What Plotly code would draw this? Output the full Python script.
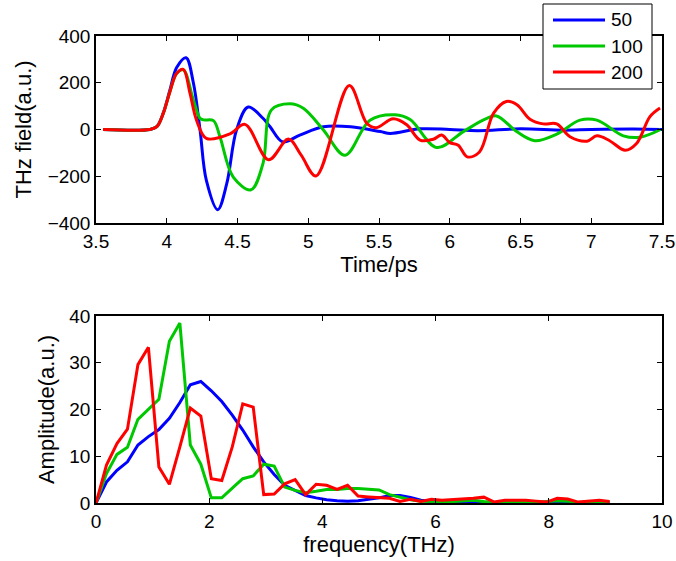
import plotly.graph_objects as go

# ---------------- data: time domain (ps, a.u.) ----------------
t_50 = [3.55, 3.88, 3.93, 3.976, 4.023, 4.07, 4.136, 4.188, 4.235, 4.28, 4.36, 4.424, 4.494,
        4.576, 4.68, 4.73, 4.82, 4.94, 5.107, 5.30, 5.51, 5.58, 5.79, 6.0, 6.2, 6.5, 6.8, 7.0, 7.3, 7.5]
v_50 = [0, 0, 12, 72, 170, 265, 307, 200, 0, -218, -343, -232, 0,
        96, 48, 12, -53, -24, 12, 12, -9, -17, 3, 0, -5, 3, -3, 0, 2, 0]

t_100 = [3.55, 3.88, 3.93, 3.976, 4.023, 4.07, 4.117, 4.188, 4.235, 4.26, 4.33, 4.376, 4.47,
         4.595, 4.68, 4.74, 4.87, 4.965, 5.107, 5.26, 5.436, 5.613, 5.72, 5.908, 6.096, 6.25,
         6.33, 6.473, 6.60, 6.756, 6.92, 7.04, 7.227, 7.345, 7.49]
v_100 = [0, 0, 12, 70, 163, 240, 255, 127, 48, 41, 38, -31, -204,
         -258, -146, 84, 110, 91, -2, -110, 40, 63, 43, -77, -9, 44,
         58, -9, -48, -20, 40, 40, -27, -33, 0]

t_200 = [3.55, 3.88, 3.93, 3.976, 4.023, 4.07, 4.117, 4.164, 4.21, 4.28, 4.447, 4.553, 4.72,
         4.86, 4.95, 5.055, 5.29, 5.413, 5.48, 5.60, 5.696, 5.79, 5.884, 5.943, 6.0, 6.06,
         6.124, 6.21, 6.31, 6.40, 6.475, 6.567, 6.66, 6.756, 6.85, 6.97, 7.04, 7.13, 7.24,
         7.32, 7.415, 7.486]
v_200 = [0, 0, 12, 70, 163, 240, 257, 156, 41, -38, -19, 22, -129,
         -41, -110, -199, 188, 27, 8, 46, 20, -45, -42, -24, -56, -67,
         -117, -96, 70, 120, 106, 44, 24, 24, -31, -50, -27, -48, -89,
         -60, 55, 92]

# ---------------- data: spectra (THz, a.u.) ----------------
df = 0.1852
freq = [round(i * df, 4) for i in range(50)]
a_50 = [0, 4.5, 7.0, 8.8, 12.4, 14.2, 15.7, 18.1, 21.5, 25.3,
        26.0, 24.0, 21.7, 18.8, 15.6, 12.0, 8.8, 6.1, 3.8, 2.7,
        1.6, 1.1, 0.7, 0.5, 0.4, 0.5, 0.8, 1.1, 1.6, 1.6,
        1.2, 0.6, 0.3, 0.2, 0.1, 0.1, 0.1, 0.1, 0.1, 0.1,
        0.1, 0.1, 0.1, 0.2, 0.2, 0.1, 0.1, 0.1, 0.1, 0.1]
a_100 = [0, 6.3, 10.4, 11.9, 17.9, 20.0, 22.2, 34.6, 38.5, 12.4,
         8.3, 1.1, 1.1, 3.2, 5.2, 5.8, 8.3, 7.9, 3.4, 2.7,
         2.2, 2.5, 2.9, 2.9, 3.1, 3.1, 3.0, 2.8, 1.8, 1.3,
         0.7, 0.4, 0.3, 0.3, 0.3, 0.5, 0.6, 0.3, 0.1, 0.2,
         0.2, 0.2, 0.1, 0.3, 0.5, 0.4, 0.1, 0.2, 0.2, 0.1]
a_200 = [0, 8.1, 12.7, 15.8, 29.6, 33.3, 7.7, 4.0, 12.0, 20.3,
         18.6, 5.2, 4.8, 12.0, 21.2, 20.5, 1.8, 1.9, 4.1, 5.0,
         1.8, 4.0, 3.8, 2.9, 3.8, 1.5, 1.3, 1.15, 1.0, 0.35,
         0.8, 0.35, 0.8, 0.6, 0.7, 0.8, 1.0, 1.25, 0.2, 0.6,
         0.6, 0.6, 0.4, 0.2, 1.0, 0.85, 0.2, 0.4, 0.6, 0.3]

names = ["50", "100", "200"]
colors = ["#0000ff", "#00c800", "#ff0000"]

fig = go.Figure()
top = [(t_50, v_50), (t_100, v_100), (t_200, v_200)]
bot = [a_50, a_100, a_200]
for (t, v), a, n, c in zip(top, bot, names, colors):
    fig.add_trace(go.Scatter(x=t, y=v, mode="lines", name=n, showlegend=False,
                             line=dict(color=c, width=3, shape="spline", smoothing=1.0),
                             xaxis="x", yaxis="y"))
    fig.add_trace(go.Scatter(x=freq, y=a, mode="lines", name=n, showlegend=False,
                             line=dict(color=c, width=3),
                             xaxis="x2", yaxis="y2"))

FAM = "Liberation Sans, Arial, sans-serif"
tickfont = dict(family=FAM, size=19, color="black")
titlefont = dict(family=FAM, size=22, color="black")
axcommon = dict(showline=True, linecolor="black", linewidth=1.5, mirror="ticks",
                ticks="inside", ticklen=5, tickwidth=1, tickcolor="black",
                showgrid=False, zeroline=False, tickfont=tickfont)

# plot area geometry (pixels) used to place the hand-drawn legend box
L, R, T, B = 96, 662, 36, 503
def px(x):
    return (x - L) / (R - L)
def py(y):
    return (B - y) / (B - T)

shapes = [dict(type="rect", xref="paper", yref="paper",
               x0=px(543), x1=px(652), y0=py(89), y1=py(4),
               line=dict(color="black", width=1), fillcolor="white", layer="above")]
annotations = []
for k, (n, c) in enumerate(zip(names, colors)):
    yy = 20 + 26 * k
    shapes.append(dict(type="line", xref="paper", yref="paper",
                       x0=px(553), x1=px(605), y0=py(yy), y1=py(yy),
                       line=dict(color=c, width=3), layer="above"))
    annotations.append(dict(xref="paper", yref="paper", x=px(609), y=py(yy),
                            xanchor="left", yanchor="middle", text=n, showarrow=False,
                            font=dict(family=FAM, size=19, color="black")))

fig.update_layout(
    width=676, height=561,
    margin=dict(l=L, r=676 - R, t=T, b=561 - B, autoexpand=False),
    paper_bgcolor="white", plot_bgcolor="white",
    font=tickfont,
    xaxis=dict(domain=[0, 1], range=[3.5, 7.5], dtick=0.5, anchor="y",
               title=dict(text="Time/ps", font=titlefont, standoff=2), **axcommon),
    yaxis=dict(domain=[py(223), 1.0], range=[-400, 400], dtick=200, anchor="x",
               title=dict(text="THz field(a.u.)", font=titlefont, standoff=10), **axcommon),
    xaxis2=dict(domain=[0, 1], range=[0, 10], dtick=2, anchor="y2",
                title=dict(text="frequency(THz)", font=titlefont, standoff=2), **axcommon),
    yaxis2=dict(domain=[0, py(316)], range=[0, 40], dtick=10, anchor="x2",
                title=dict(text="Amplitude(a.u.)", font=titlefont, standoff=9), **axcommon),
    shapes=shapes,
    annotations=annotations,
    showlegend=False,
)

fig.write_html("out.html")
